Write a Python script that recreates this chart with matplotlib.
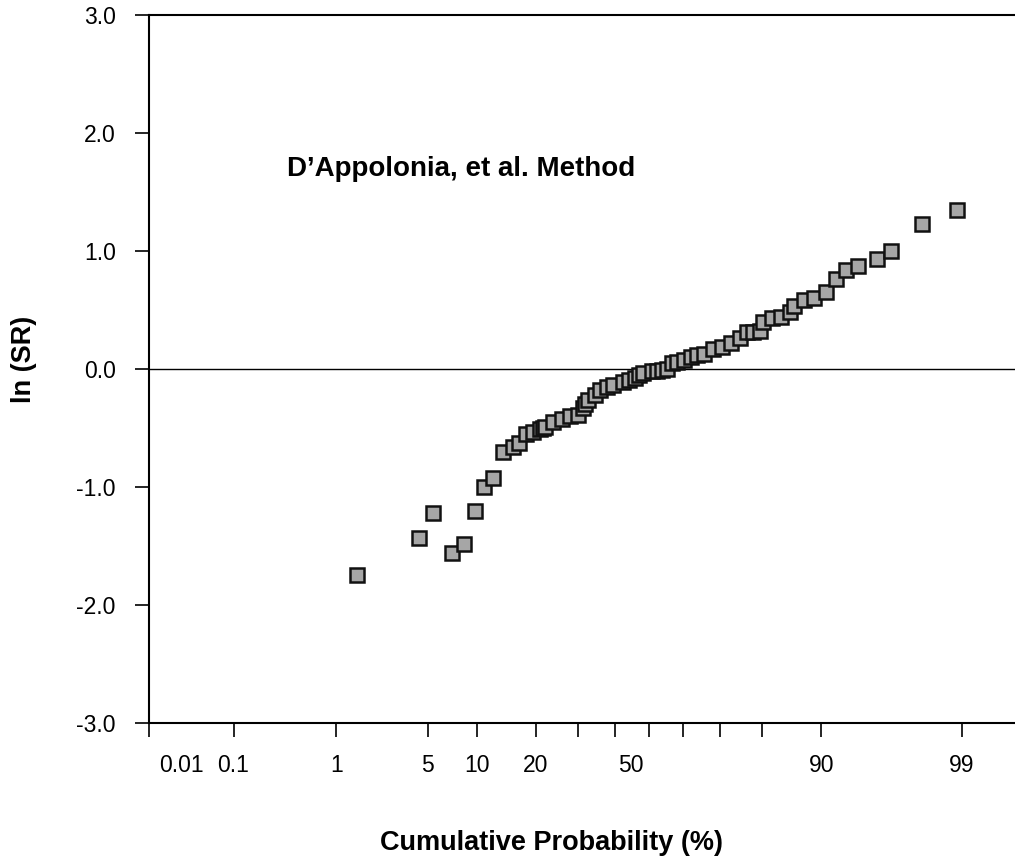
import numpy as np
import matplotlib
matplotlib.use("Agg")
import matplotlib.pyplot as plt
from statistics import NormalDist

# ---- data ----
prob_pct = [1.5, 4.35, 5.4, 7.1, 8.4, 9.8, 11.0, 12.3, 13.8, 15.5, 16.7, 18.1, 19.5,
            20.9, 21.6, 22.0, 23.8, 25.8, 27.8, 29.9, 31.2, 31.7, 32.6, 34.4, 35.8,
            37.6, 39.5, 42.4, 44.0, 45.9, 47.1, 48.3, 50.8, 52.3, 53.8, 55.2, 56.7,
            58.2, 60.3, 62.2, 63.9, 65.9, 68.4, 70.6, 72.8, 75.1, 76.6, 78.1, 79.6,
            80.2, 81.9, 83.6, 85.2, 86.0, 87.6, 89.0, 90.6, 91.8, 92.9, 94.0, 95.5,
            96.4, 97.9, 98.9]
ln_sr = [-1.75, -1.43, -1.22, -1.56, -1.48, -1.20, -1.00, -0.92, -0.70, -0.66, -0.63,
         -0.55, -0.53, -0.51, -0.50, -0.49, -0.45, -0.42, -0.40, -0.39, -0.33, -0.30,
         -0.26, -0.22, -0.18, -0.155, -0.136, -0.107, -0.095, -0.08, -0.05, -0.03,
         -0.02, -0.015, -0.01, 0.0, 0.05, 0.06, 0.08, 0.105, 0.12, 0.13, 0.167, 0.184,
         0.22, 0.26, 0.31, 0.31, 0.32, 0.40, 0.43, 0.44, 0.48, 0.53, 0.585, 0.60, 0.65,
         0.76, 0.84, 0.87, 0.93, 1.00, 1.23, 1.35]

x_ticks = [0.01, 0.1, 1, 5, 10, 20, 50, 90, 99]
x_ticklabels = ["0.01", "0.1", "1", "5", "10", "20", "50", "90", "99"]
x_minor = [30, 40, 60, 70, 80]
y_ticks = [-3, -2, -1, 0, 1, 2, 3]
y_ticklabels = ["-3.0", "-2.0", "-1.0", "0.0", "1.0", "2.0", "3.0"]
label_shift_px = {"0.01": 32, "50": -18}

_nd = NormalDist()


def fwd(p):
    p = np.clip(np.asarray(p, dtype=float), 1e-6, 100 - 1e-6) / 100.0
    return np.vectorize(_nd.inv_cdf, otypes=[float])(p)


def inv(z):
    z = np.asarray(z, dtype=float)
    return np.vectorize(_nd.cdf, otypes=[float])(z) * 100.0


plt.rcParams['font.family'] = ['Liberation Sans', 'DejaVu Sans']

W, H = 1015, 863
fig = plt.figure(figsize=(W / 100, H / 100), dpi=100)
ax = fig.add_axes([149 / W, 140 / H, 1000 / W, 708 / H])
ax.set_xscale('function', functions=(fwd, inv))
ax.set_xlim(0.01, 99.99)
ax.set_ylim(-3, 3)

ax.axhline(0, color='black', lw=1.0, zorder=1)
ax.plot(prob_pct, ln_sr, linestyle='none', marker='s', markersize=9.5,
        markerfacecolor='#a6a6a6', markeredgecolor='#111111', markeredgewidth=1.8,
        zorder=3, clip_on=False)

for s in ax.spines.values():
    s.set_linewidth(1.5)
ax.spines['right'].set_visible(False)

ax.set_xticks(x_ticks)
ax.set_xticks(x_minor, minor=True)
ax.set_xticklabels([])
ax.tick_params(axis='x', which='both', direction='out', length=10, width=1.2,
               labelbottom=False)
for v, lbl in zip(x_ticks, x_ticklabels):
    ax.annotate(lbl, xy=(v, 0), xycoords=('data', 'axes fraction'),
                xytext=(label_shift_px.get(lbl, 0), -42), textcoords='offset pixels',
                ha='center', va='center', fontsize=16.5, annotation_clip=False)

ax.set_yticks(y_ticks)
ax.set_yticklabels(y_ticklabels)
ax.tick_params(axis='y', direction='out', length=10, width=1.2, pad=14,
               labelsize=16.5)

ax.set_xlabel("Cumulative Probability (%)", fontsize=19.5, fontweight='bold')
ax.xaxis.set_label_coords((552 - 149) / 1000, -0.151)
ax.set_ylabel("ln (SR)", fontsize=19.5, fontweight='bold')
ax.yaxis.set_label_coords(-0.112, 0.514)

ax.text(0.138, 0.7726, "D\u2019Appolonia, et al. Method", transform=ax.transAxes,
        fontsize=20, fontweight='bold', ha='left', va='baseline')

fig.savefig("out.png", dpi=100)
